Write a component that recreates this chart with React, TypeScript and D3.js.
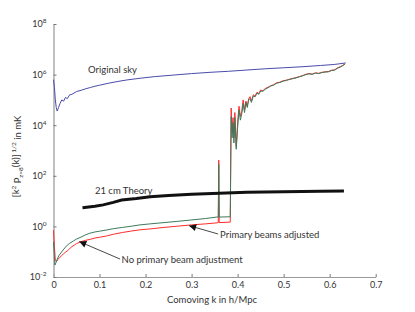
import React, { useRef, useEffect } from "react";
import * as d3 from "d3";

const width = 415;
const height = 312;
const margin = { top: 24, right: 39.3, bottom: 35, left: 53.5 };

// k in h/Mpc ; values stored as log10 of [k^2 P(k)]^1/2 in mK
const skyK = [0, 0.002, 0.004, 0.006, 0.008, 0.011, 0.014, 0.018, 0.022, 0.026, 0.03, 0.035, 0.04, 0.05, 0.06, 0.07, 0.08, 0.09, 0.1, 0.12, 0.14, 0.16, 0.19, 0.22, 0.26, 0.3, 0.34, 0.38, 0.42, 0.46, 0.5, 0.54, 0.58, 0.61, 0.635];
const skyLog = [5.8, 5.5, 5.0, 4.7, 4.56, 4.7, 4.85, 5.0, 4.95, 5.1, 5.05, 5.2, 5.22, 5.33, 5.38, 5.44, 5.49, 5.54, 5.58, 5.66, 5.73, 5.79, 5.86, 5.92, 5.98, 6.04, 6.09, 6.13, 6.18, 6.23, 6.27, 6.31, 6.36, 6.4, 6.46];

const redLowK = [0, 0.002, 0.004, 0.007, 0.01, 0.014, 0.018, 0.022, 0.026, 0.03, 0.035, 0.04, 0.045, 0.05, 0.06, 0.07, 0.08, 0.09, 0.1, 0.115, 0.13, 0.15, 0.17, 0.19, 0.21, 0.24, 0.27, 0.3, 0.33, 0.355, 0.358, 0.359, 0.36, 0.384];
const redLowLog = [-0.15, -0.8, -1.35, -1.38, -1.3, -1.22, -1.15, -1.08, -1.02, -0.97, -0.88, -0.8, -0.74, -0.68, -0.6, -0.55, -0.51, -0.46, -0.43, -0.38, -0.31, -0.24, -0.18, -0.13, -0.1, -0.04, 0.01, 0.06, 0.1, 0.14, 0.15, 2.62, 0.15, 0.17];

const greenLowK = [0, 0.002, 0.003, 0.005, 0.008, 0.012, 0.016, 0.021, 0.026, 0.03, 0.035, 0.043, 0.05, 0.06, 0.07, 0.079, 0.09, 0.1, 0.116, 0.13, 0.15, 0.17, 0.188, 0.21, 0.24, 0.27, 0.297, 0.33, 0.355, 0.358, 0.359, 0.36, 0.384];
const greenLowLog = [-0.6, -1.2, -1.53, -1.45, -1.3, -1.15, -1.05, -0.93, -0.82, -0.74, -0.67, -0.58, -0.5, -0.42, -0.33, -0.27, -0.22, -0.19, -0.14, -0.09, -0.04, 0.01, 0.06, 0.1, 0.15, 0.2, 0.25, 0.31, 0.37, 0.37, 2.45, 0.37, 0.38];

const highK = [0.386, 0.388, 0.39, 0.392, 0.394, 0.397, 0.4, 0.403, 0.406, 0.409, 0.412, 0.415, 0.418, 0.421, 0.424, 0.427, 0.43, 0.434, 0.438, 0.442, 0.446, 0.45, 0.455, 0.46, 0.466, 0.472, 0.478, 0.485, 0.492, 0.499, 0.506, 0.513, 0.52, 0.527, 0.534, 0.541, 0.548, 0.555, 0.562, 0.569, 0.576, 0.583, 0.59, 0.597, 0.604, 0.611, 0.617, 0.623, 0.628, 0.633];
const redHighLog = [4.68, 3.7, 4.3, 3.5, 4.5, 3.15, 4.1, 4.75, 4.35, 4.55, 5.0, 4.6, 4.95, 4.75, 5.05, 5.13, 4.95, 5.2, 5.15, 5.3, 5.25, 5.39, 5.36, 5.45, 5.5, 5.56, 5.6, 5.68, 5.7, 5.76, 5.78, 5.82, 5.85, 5.88, 5.92, 5.96, 6.01, 6.04, 6.02, 6.07, 6.05, 6.09, 6.11, 6.12, 6.17, 6.19, 6.27, 6.31, 6.36, 6.42];
const greenHighLog = [4.34, 3.5, 4.1, 3.3, 4.3, 3.05, 3.9, 4.6, 4.2, 4.45, 4.85, 4.5, 4.9, 4.7, 5.0, 5.05, 4.9, 5.15, 5.12, 5.27, 5.22, 5.35, 5.34, 5.42, 5.48, 5.55, 5.58, 5.66, 5.69, 5.74, 5.77, 5.81, 5.84, 5.87, 5.91, 5.95, 6.0, 6.03, 6.01, 6.06, 6.04, 6.08, 6.1, 6.11, 6.16, 6.18, 6.25, 6.3, 6.35, 6.41];

const theoryK = [0.063, 0.09, 0.108, 0.13, 0.148, 0.18, 0.21, 0.25, 0.3, 0.36, 0.42, 0.5, 0.58, 0.631];
const theoryLog = [0.74, 0.8, 0.85, 0.95, 1.04, 1.1, 1.17, 1.22, 1.27, 1.31, 1.35, 1.37, 1.39, 1.4];

const xTicks = [0, 0.1, 0.2, 0.3, 0.4, 0.5, 0.6, 0.7];
const yTickExps = [-2, 0, 2, 4, 6, 8];

const font = "Lato, 'Open Sans', sans-serif";
const textColor = "#333";

const App = () => {
  const svgRef = useRef<SVGSVGElement>(null);

  useEffect(() => {
    const svg = d3.select(svgRef.current);
    svg.selectAll("*").remove();

    const x = d3
      .scaleLinear()
      .domain([0, 0.7])
      .range([margin.left, width - margin.right]);
    const y = d3
      .scaleLog()
      .domain([1e-2, 1e8])
      .range([height - margin.bottom, margin.top]);

    const pts = (ks: number[], logs: number[]) =>
      ks.map((k, i) => [k, Math.pow(10, logs[i])] as [number, number]);

    const line = d3
      .line<[number, number]>()
      .x((d) => x(d[0]))
      .y((d) => y(d[1]));

    svg
      .append("defs")
      .append("marker")
      .attr("id", "arrow")
      .attr("viewBox", "0 0 10 10")
      .attr("refX", 10)
      .attr("refY", 5)
      .attr("markerUnits", "userSpaceOnUse")
      .attr("markerWidth", 9)
      .attr("markerHeight", 7)
      .attr("orient", "auto")
      .append("path")
      .attr("d", "M0,0 L10,5 L0,10 z")
      .attr("fill", "#111");

    // axes
    const xAxis = svg
      .append("g")
      .attr("transform", `translate(0,${height - margin.bottom})`)
      .call(
        d3
          .axisBottom(x)
          .tickValues(xTicks)
          .tickSize(-3)
          .tickSizeOuter(0)
          .tickPadding(5)
          .tickFormat((d) => (d === 0 ? "0" : d3.format(".1f")(d as number)))
      );
    xAxis.select(".domain").attr("stroke", "#999").attr("stroke-width", 1.2);
    xAxis.selectAll(".tick line").attr("stroke", "#777");
    xAxis
      .selectAll("text")
      .attr("font-family", font)
      .attr("font-size", 9)
      .attr("fill", textColor);

    const yAxis = svg
      .append("g")
      .attr("transform", `translate(${margin.left},0)`)
      .call(
        d3
          .axisLeft(y)
          .tickValues(yTickExps.map((e) => Math.pow(10, e)))
          .tickSize(-3)
          .tickSizeOuter(0)
          .tickPadding(7)
          .tickFormat(() => "")
      );
    yAxis.select(".domain").attr("stroke", "#aaa").attr("stroke-width", 1.5);
    yAxis.selectAll(".tick line").attr("stroke", "#777");
    yAxis
      .selectAll<SVGTextElement, number>("text")
      .attr("font-family", font)
      .attr("font-size", 9)
      .attr("fill", textColor)
      .each(function (d) {
        const t = d3.select(this);
        t.append("tspan").text("10");
        t.append("tspan")
          .attr("dy", "-0.6em")
          .attr("font-size", 6.5)
          .text(String(Math.round(Math.log10(d))));
      });

    // series
    svg
      .append("path")
      .datum(pts(skyK, skyLog))
      .attr("d", line)
      .attr("fill", "none")
      .attr("stroke", "#4b4bab")
      .attr("stroke-width", 1);

    svg
      .append("path")
      .datum(pts(redLowK.concat(highK), redLowLog.concat(redHighLog)))
      .attr("d", line)
      .attr("fill", "none")
      .attr("stroke", "#ff2b2b")
      .attr("stroke-width", 1);

    svg
      .append("path")
      .datum(pts(greenLowK.concat(highK), greenLowLog.concat(greenHighLog)))
      .attr("d", line)
      .attr("fill", "none")
      .attr("stroke", "#3d7a5c")
      .attr("stroke-width", 1);

    svg
      .append("path")
      .datum(pts(theoryK, theoryLog))
      .attr("d", line)
      .attr("fill", "none")
      .attr("stroke", "#111")
      .attr("stroke-width", 3);

    // annotations (positions in data units)
    const label = (k: number, v: number, s: string) =>
      svg
        .append("text")
        .attr("x", x(k))
        .attr("y", y(v))
        .attr("dy", "0.35em")
        .attr("font-family", font)
        .attr("font-size", 9.5)
        .attr("fill", textColor)
        .text(s);

    label(0.075, Math.pow(10, 6.2), "Original sky");
    label(0.09, Math.pow(10, 1.4), "21 cm Theory");
    label(0.362, Math.pow(10, -0.34), "Primary beams adjusted");
    label(0.148, Math.pow(10, -1.33), "No primary beam adjustment");

    const arrow = (k0: number, v0: number, k1: number, v1: number) =>
      svg
        .append("line")
        .attr("x1", x(k0))
        .attr("y1", y(Math.pow(10, v0)))
        .attr("x2", x(k1))
        .attr("y2", y(Math.pow(10, v1)))
        .attr("stroke", "#333")
        .attr("stroke-width", 0.9)
        .attr("marker-end", "url(#arrow)");

    arrow(0.3576, -0.3, 0.2946, 0.03);
    arrow(0.1446, -1.29, 0.056, -0.6);

    // axis titles
    svg
      .append("text")
      .attr("x", 212)
      .attr("y", 303)
      .attr("text-anchor", "middle")
      .attr("font-family", font)
      .attr("font-size", 9.5)
      .attr("fill", textColor)
      .text("Comoving k in h/Mpc");

    const yl = svg
      .append("text")
      .attr("transform", `translate(19,${(margin.top + height - margin.bottom) / 2 + 6}) rotate(-90)`)
      .attr("text-anchor", "middle")
      .attr("font-family", font)
      .attr("font-size", 9.5)
      .attr("fill", textColor);
    yl.append("tspan").text("[k");
    yl.append("tspan").attr("dy", "-0.5em").attr("font-size", 6.5).text("2");
    yl.append("tspan").attr("dy", "0.5em").text(" P");
    yl.append("tspan").attr("dy", "0.35em").attr("font-size", 6.5).text("z=8");
    yl.append("tspan").attr("dy", "-0.35em").text("(k)]");
    yl.append("tspan").attr("dy", "-0.55em").attr("font-size", 6.5).text(" 1/2");
    yl.append("tspan").attr("dy", "0.55em").text(" in mK");

    return () => {
      svg.selectAll("*").remove();
    };
  }, []);

  return (
    <svg
      ref={svgRef}
      width={width}
      height={height}
      style={{ position: "absolute", left: 0, top: 0, background: "#fff" }}
    />
  );
};

export default App;
